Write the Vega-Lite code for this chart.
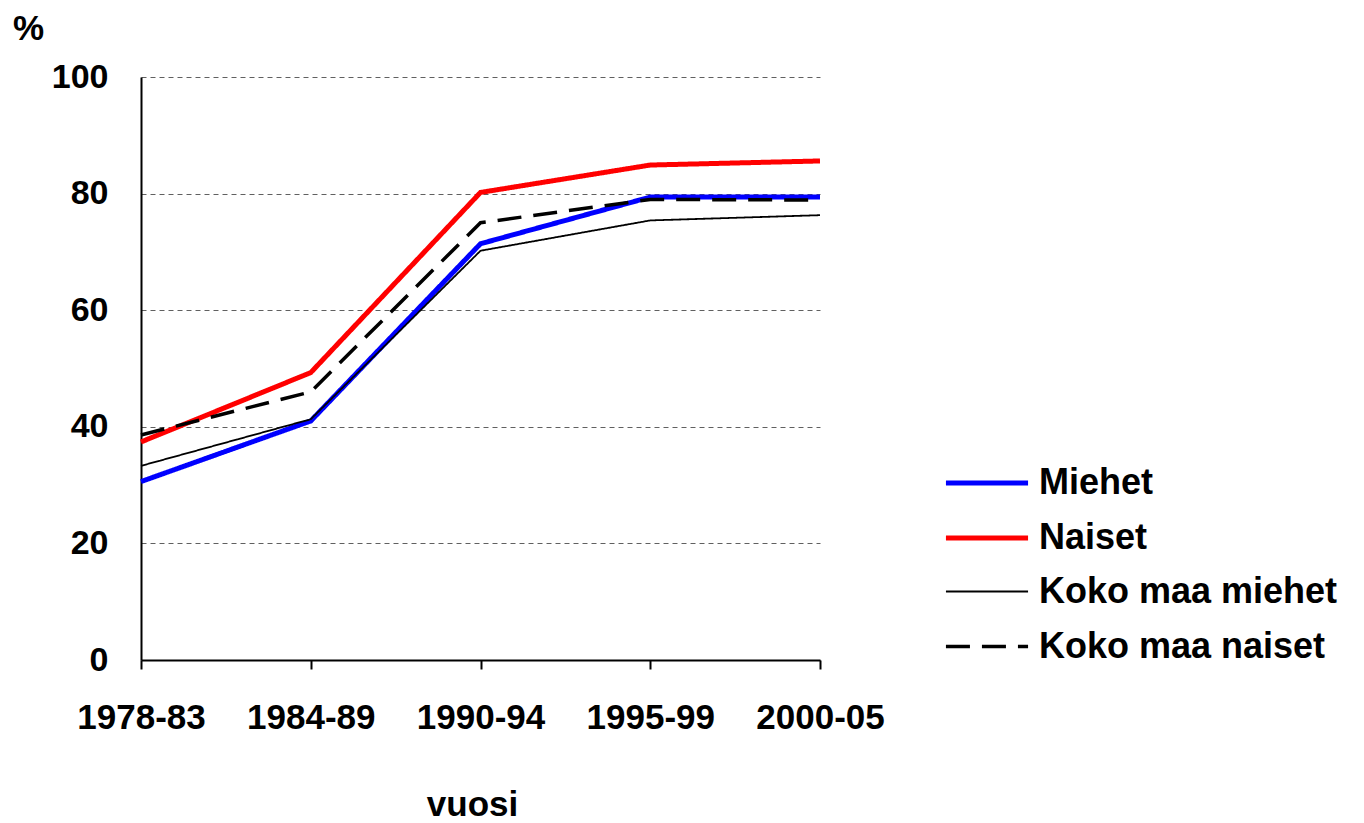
{
  "$schema": "https://vega.github.io/schema/vega-lite/v6.json",
  "width": 679,
  "height": 583,
  "autosize": {"type": "none"},
  "padding": {"left": 141, "top": 77, "right": 544, "bottom": 163},
  "background": "white",
  "config": {"view": {"stroke": null}, "font": "Liberation Sans"},
  "data": {
    "values": [
      {"period": "1978-83", "series": "Miehet", "value": 30.6},
      {"period": "1984-89", "series": "Miehet", "value": 41.0},
      {"period": "1990-94", "series": "Miehet", "value": 71.4},
      {"period": "1995-99", "series": "Miehet", "value": 79.4},
      {"period": "2000-05", "series": "Miehet", "value": 79.4},
      {"period": "1978-83", "series": "Naiset", "value": 37.4},
      {"period": "1984-89", "series": "Naiset", "value": 49.3},
      {"period": "1990-94", "series": "Naiset", "value": 80.2},
      {"period": "1995-99", "series": "Naiset", "value": 84.9},
      {"period": "2000-05", "series": "Naiset", "value": 85.6},
      {"period": "1978-83", "series": "Koko maa miehet", "value": 33.3},
      {"period": "1984-89", "series": "Koko maa miehet", "value": 41.3},
      {"period": "1990-94", "series": "Koko maa miehet", "value": 70.2},
      {"period": "1995-99", "series": "Koko maa miehet", "value": 75.4},
      {"period": "2000-05", "series": "Koko maa miehet", "value": 76.3},
      {"period": "1978-83", "series": "Koko maa naiset", "value": 38.6},
      {"period": "1984-89", "series": "Koko maa naiset", "value": 46.0},
      {"period": "1990-94", "series": "Koko maa naiset", "value": 75.0},
      {"period": "1995-99", "series": "Koko maa naiset", "value": 79.0},
      {"period": "2000-05", "series": "Koko maa naiset", "value": 78.9}
    ]
  },
  "mark": {"type": "line", "strokeCap": "butt", "strokeJoin": "miter"},
  "encoding": {
    "x": {
      "field": "period",
      "type": "ordinal",
      "sort": ["1978-83", "1984-89", "1990-94", "1995-99", "2000-05"],
      "scale": {"type": "point", "padding": 0},
      "axis": {
        "title": "vuosi",
        "titleFontSize": 35,
        "titleFontWeight": "bold",
        "titleColor": "black",
        "titleX": 331,
        "titleY": 155,
        "titleAlign": "center",
        "titleBaseline": "alphabetic",
        "labelAngle": 0,
        "labelFontSize": 35,
        "labelFontWeight": "bold",
        "labelColor": "black",
        "labelBaseline": "alphabetic",
        "labelPadding": 59,
        "labelFlush": false,
        "labelOverlap": false,
        "domainColor": "black",
        "domainWidth": 2,
        "tickColor": "black",
        "tickWidth": 2,
        "tickSize": 9,
        "grid": false
      }
    },
    "y": {
      "field": "value",
      "type": "quantitative",
      "scale": {"domain": [0, 100], "nice": false},
      "axis": {
        "title": "%",
        "titleAngle": 0,
        "titleFontSize": 35,
        "titleFontWeight": "bold",
        "titleColor": "black",
        "titleX": -113,
        "titleY": -38,
        "titleAlign": "center",
        "titleBaseline": "alphabetic",
        "values": [0, 20, 40, 60, 80, 100],
        "labelFontSize": 34,
        "labelFontWeight": "bold",
        "labelColor": "black",
        "labelBaseline": "middle",
        "labelPadding": 33,
        "labelFlush": false,
        "ticks": false,
        "domainColor": "black",
        "domainWidth": 2,
        "grid": true,
        "gridColor": "#606060",
        "gridDash": [5, 4],
        "gridWidth": 1
      }
    },
    "color": {
      "field": "series",
      "type": "ordinal",
      "scale": {
        "type": "ordinal",
        "domain": ["Miehet", "Naiset", "Koko maa miehet", "Koko maa naiset"],
        "range": ["#0000ff", "#ff0000", "#000000", "#000000"]
      },
      "legend": {
        "title": null,
        "orient": "none",
        "legendX": 809,
        "legendY": 369,
        "symbolType": "M-1.19,0H1.19",
        "symbolSize": 4761,
        "labelFontSize": 36,
        "labelFontWeight": "bold",
        "labelColor": "black",
        "labelOffset": 15,
        "labelLimit": 500,
        "rowPadding": -1,
        "encode": {
          "symbols": {
            "update": {
              "strokeDash": {"signal": "datum.value === 'Koko maa naiset' ? [37, 8, 27, 20] : [1, 0]"}
            }
          }
        }
      }
    },
    "strokeWidth": {
      "field": "series",
      "type": "ordinal",
      "scale": {
        "type": "ordinal",
        "domain": ["Miehet", "Naiset", "Koko maa miehet", "Koko maa naiset"],
        "range": [5, 5, 1.8, 3.5]
      },
      "legend": {"title": null}
    },
    "strokeDash": {
      "field": "series",
      "type": "ordinal",
      "scale": {
        "type": "ordinal",
        "domain": ["Miehet", "Naiset", "Koko maa miehet", "Koko maa naiset"],
        "range": [[1, 0], [1, 0], [1, 0], [24, 12]]
      },
      "legend": {"title": null}
    }
  }
}
